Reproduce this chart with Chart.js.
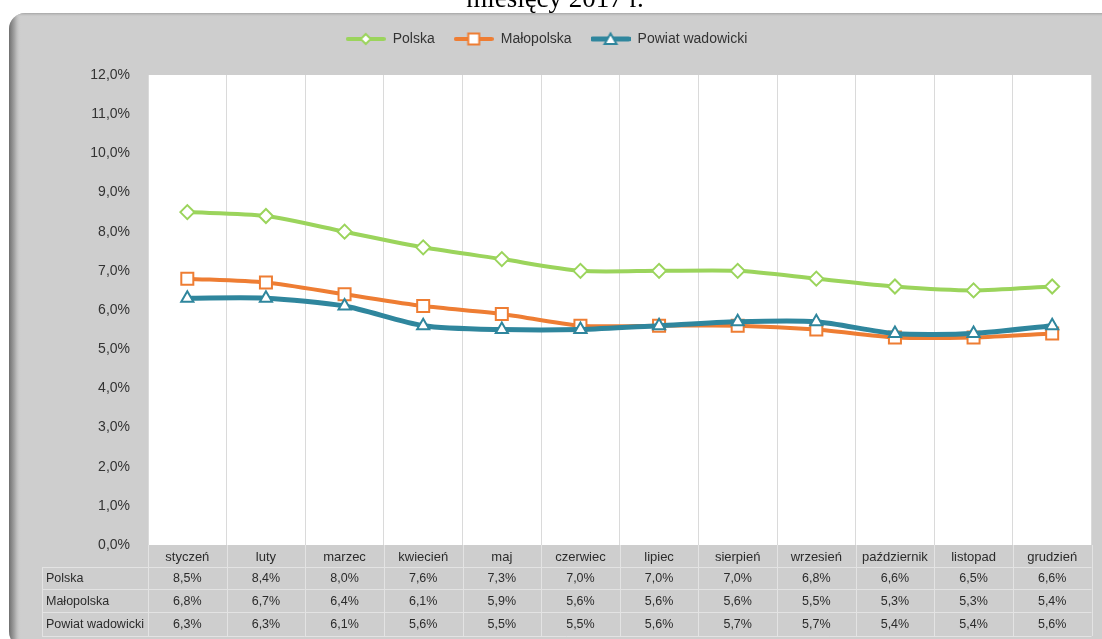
<!DOCTYPE html>
<html>
<head>
<meta charset="utf-8">
<script src="https://cdn.jsdelivr.net/npm/chart.js@4.4.0/dist/chart.umd.min.js"></script>
<style>
  body { margin: 0; background: #fff; overflow: hidden; }
  #wrap { position: relative; width: 1102px; height: 639px; }
  #title {
    position: absolute; left: 0; width: 1110px; top: -17px; text-align: center;
    font-family: 'Liberation Serif', 'Times New Roman', serif; font-size: 27px; color: #000;
  }
  canvas { position: absolute; left: 0; top: 0; }
</style>
</head>
<body>
<div id="wrap">
  <canvas id="myChart" width="1102" height="639"></canvas>
  <div id="title">miesięcy 2017 r.</div>
</div>
<script>
const months = ['styczeń', 'luty', 'marzec', 'kwiecień', 'maj', 'czerwiec', 'lipiec',
  'sierpień', 'wrzesień', 'październik', 'listopad', 'grudzień'];
const polska = [8.5, 8.4, 8.0, 7.6, 7.3, 7.0, 7.0, 7.0, 6.8, 6.6, 6.5, 6.6];
const malopolska = [6.8, 6.7, 6.4, 6.1, 5.9, 5.6, 5.6, 5.6, 5.5, 5.3, 5.3, 5.4];
const powiat = [6.3, 6.3, 6.1, 5.6, 5.5, 5.5, 5.6, 5.7, 5.7, 5.4, 5.4, 5.6];
const seriesNames = ['Polska', 'Małopolska', 'Powiat wadowicki'];

const GREEN = '#9bd45c';
const ORANGE = '#ee7d33';
const TEAL = '#2f869d';
const FONT = "'Liberation Sans', Arial, sans-serif";

const fmt = (v) => v.toFixed(1).replace('.', ',') + '%';

// small legend picture: line with marker in the middle
function legendIcon(color, style, width) {
  const c = document.createElement('canvas');
  c.width = 40;
  c.height = 16;
  const ctx = c.getContext('2d');
  ctx.strokeStyle = color;
  ctx.lineWidth = width;
  ctx.lineCap = 'round';
  ctx.beginPath();
  ctx.moveTo(2, 8);
  ctx.lineTo(38, 8);
  ctx.stroke();
  ctx.fillStyle = '#fff';
  ctx.lineWidth = 2;
  ctx.beginPath();
  if (style === 'rectRot') {
    ctx.moveTo(20, 3); ctx.lineTo(25, 8); ctx.lineTo(20, 13); ctx.lineTo(15, 8);
  } else if (style === 'rect') {
    ctx.rect(14.5, 2.5, 11, 11);
  } else {
    ctx.moveTo(20, 2.5); ctx.lineTo(26, 13); ctx.lineTo(14, 13);
  }
  ctx.closePath();
  ctx.fill();
  ctx.stroke();
  return c;
}

const icons = [
  legendIcon(GREEN, 'rectRot', 4),
  legendIcon(ORANGE, 'rect', 4),
  legendIcon(TEAL, 'triangle', 5),
];

const framePlugin = {
  id: 'frame',
  beforeLayout(chart) {
    // leave a bit more room under the legend row
    const lg = chart.legend;
    if (lg && !lg.patched) {
      const fit = lg.fit;
      lg.fit = function () {
        fit.call(this);
        this.height += 19;
      };
      lg.patched = true;
    }
  },
  beforeDraw(chart) {
    const { ctx, chartArea } = chart;
    ctx.save();
    ctx.fillStyle = '#fff';
    ctx.fillRect(0, 0, chart.width, chart.height);
    ctx.beginPath();
    ctx.roundRect(9, 13, 1130, 636, [16, 16, 16, 18]);
    ctx.fillStyle = '#cecece';
    ctx.fill();
    ctx.clip();
    let g = ctx.createLinearGradient(9, 0, 21, 0);
    g.addColorStop(0, '#6f6f6f');
    g.addColorStop(0.5, '#a9a9a9');
    g.addColorStop(1, 'rgba(206,206,206,0)');
    ctx.fillStyle = g;
    ctx.fillRect(9, 13, 14, 640);
    g = ctx.createLinearGradient(0, 13, 0, 17);
    g.addColorStop(0, '#a5a5a5');
    g.addColorStop(1, 'rgba(206,206,206,0)');
    ctx.fillStyle = g;
    ctx.fillRect(9, 13, 1100, 4);
    ctx.restore();
    ctx.fillStyle = '#fff';
    ctx.fillRect(chartArea.left, chartArea.top, chartArea.right - chartArea.left, chartArea.bottom - chartArea.top);
  },
  afterDraw(chart) {
    const { ctx, chartArea } = chart;
    const x = chart.scales.x;
    const rows = [polska, malopolska, powiat];
    const rowTop = [567, 589, 612];
    const rowBottom = 636;
    const half = (x.getPixelForValue(1) - x.getPixelForValue(0)) / 2;
    ctx.save();
    ctx.strokeStyle = '#e3e3e3';
    ctx.lineWidth = 1;
    ctx.beginPath();
    [567, 589, 612, 636].forEach((y) => {
      ctx.moveTo(42, y + 0.5);
      ctx.lineTo(chartArea.right, y + 0.5);
    });
    ctx.moveTo(42.5, 567);
    ctx.lineTo(42.5, rowBottom);
    for (let i = 0; i <= months.length; i++) {
      const px = Math.round(x.getPixelForValue(i) - half) + 0.5;
      ctx.moveTo(px, chartArea.bottom);
      ctx.lineTo(px, rowBottom);
    }
    ctx.stroke();
    ctx.fillStyle = '#2b2b2b';
    ctx.font = '12.5px ' + FONT;
    ctx.textBaseline = 'middle';
    rows.forEach((row, r) => {
      const cy = (rowTop[r] + (rowTop[r + 1] || rowBottom)) / 2 + 1;
      ctx.textAlign = 'left';
      ctx.fillText(seriesNames[r], 46, cy);
      ctx.textAlign = 'center';
      row.forEach((v, i) => ctx.fillText(fmt(v), x.getPixelForValue(i), cy));
    });
    ctx.restore();
  },
};

function lineSet(label, data, color, width, style, radius, order) {
  return {
    label,
    data,
    borderColor: color,
    borderWidth: width,
    backgroundColor: color,
    pointStyle: style,
    pointRadius: radius,
    pointHoverRadius: radius,
    pointBackgroundColor: '#fff',
    pointBorderColor: color,
    pointBorderWidth: 2,
    tension: 0.25,
    order,
  };
}

new Chart(document.getElementById('myChart'), {
  type: 'line',
  data: {
    labels: months,
    datasets: [
      lineSet('Polska', polska, GREEN, 4, 'rectRot', 7, 3),
      lineSet('Małopolska', malopolska, ORANGE, 4, 'rect', 8.5, 2),
      lineSet('Powiat wadowicki', powiat, TEAL, 5, 'triangle', 7, 1),
    ],
  },
  options: {
    responsive: false,
    animation: false,
    events: [],
    layout: { padding: { top: 13, left: 0, right: 9, bottom: 0 } },
    plugins: {
      tooltip: { enabled: false },
      legend: {
        position: 'top',
        labels: {
          usePointStyle: true,
          pointStyleWidth: 40,
          padding: 19,
          color: '#333',
          font: { family: FONT, size: 14 },
          generateLabels: (chart) => chart.data.datasets.map((ds, i) => ({
            text: ds.label,
            pointStyle: icons[i],
            fillStyle: ds.borderColor,
            strokeStyle: ds.borderColor,
            fontColor: '#333',
            lineWidth: 0,
            hidden: false,
            datasetIndex: i,
          })),
        },
      },
    },
    scales: {
      x: {
        offset: true,
        afterFit: (s) => { s.height = 94; },
        grid: { offset: true, color: '#dadada', drawTicks: false },
        border: { display: false },
        ticks: {
          padding: 5,
          maxRotation: 0,
          autoSkip: false,
          color: '#2b2b2b',
          font: { family: FONT, size: 13 },
        },
      },
      y: {
        min: 0,
        max: 12,
        afterFit: (s) => { s.width = 148; },
        grid: { display: false, drawTicks: false },
        border: { display: false },
        ticks: {
          stepSize: 1,
          padding: 18,
          color: '#333',
          font: { family: FONT, size: 14 },
          callback: (v) => fmt(v),
        },
      },
    },
  },
  plugins: [framePlugin],
});
</script>
</body>
</html>
